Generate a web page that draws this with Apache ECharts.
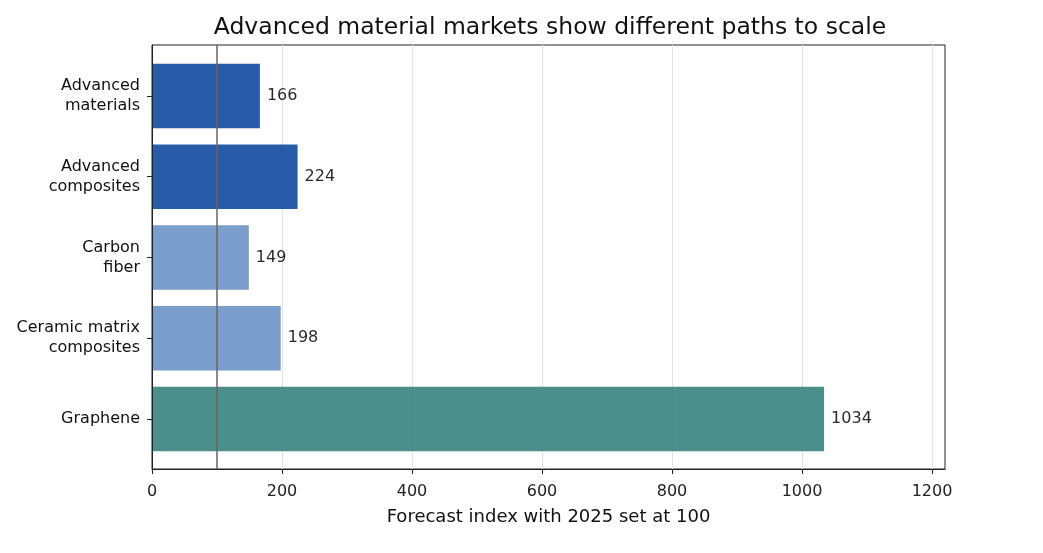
<!DOCTYPE html>
<html>
<head>
<meta charset="utf-8">
<script src="https://cdn.jsdelivr.net/npm/echarts@6/dist/echarts.min.js"></script>
<style>html,body{margin:0;padding:0;background:#fff;}#c{width:1043px;height:553px;}</style>
</head>
<body>
<div id="c"></div>
<script>
const categories = ["Advanced\nmaterials", "Advanced\ncomposites", "Carbon\nfiber", "Ceramic matrix\ncomposites", "Graphene"];
const values = [166, 224, 149, 198, 1034];
const barColors = ["#124a9f", "#6c92c5", "#37827d"];
const colorIndex = [0, 0, 1, 1, 2];
const xTicks = [0, 200, 400, 600, 800, 1000, 1200];
const baseline = 100;
const xMax = 1220;

const font = "DejaVu Sans";
const chart = echarts.init(document.getElementById('c'), null, {renderer: 'canvas'});
chart.setOption({
  animation: false,
  backgroundColor: '#fff',
  title: {
    text: 'Advanced material markets show different paths to scale',
    left: 545, top: 11, textAlign: 'center',
    textStyle: {fontFamily: font, fontSize: 23.5, fontWeight: 'normal', color: '#111'}
  },
  grid: [
    {left: 152, right: 98, top: 45, bottom: 84, show: true, borderColor: '#222', borderWidth: 1, backgroundColor: 'transparent'},
    {left: 152, right: 98, top: 55.6, bottom: 93.6}
  ],
  xAxis: [
    {
      type: 'value', gridIndex: 0, min: 0, max: xMax,
      axisLine: {show: true, lineStyle: {color: '#222', width: 1}},
      axisTick: {show: true, length: 5, lineStyle: {color: '#222'}, customValues: xTicks},
      axisLabel: {fontFamily: font, fontSize: 16, color: '#222', margin: 15, customValues: xTicks,
                  formatter: v => String(v)},
      splitLine: {show: true, lineStyle: {color: '#e3e3e3', width: 1}},
      name: 'Forecast index with 2025 set at 100',
      nameLocation: 'middle', nameGap: 39,
      nameTextStyle: {fontFamily: font, fontSize: 18, color: '#111'}
    },
    {
      type: 'value', gridIndex: 1, min: 0, max: xMax, show: false, splitLine: {show: false}
    }
  ],
  yAxis: [
    {
      type: 'value', gridIndex: 0, min: 0, max: 1, z: 10,
      axisLine: {show: true, lineStyle: {color: '#222', width: 1}},
      axisTick: {show: false}, axisLabel: {show: false}, splitLine: {show: false}
    },
    {
      type: 'category', gridIndex: 1, data: categories, inverse: true,
      axisLine: {show: false},
      axisTick: {show: true, alignWithLabel: true, length: 5, lineStyle: {color: '#222'}},
      axisLabel: {fontFamily: font, fontSize: 16, color: '#111', margin: 12, lineHeight: 20, align: 'right',
                  padding: [5, 0, 0, 0]},
      splitLine: {show: false}
    }
  ],
  series: [
    {
      type: 'bar', xAxisIndex: 1, yAxisIndex: 1,
      barCategoryGap: '20%',
      data: values.map((v, i) => ({value: v, itemStyle: {color: barColors[colorIndex[i]], opacity: 0.9}})),
      label: {show: true, position: 'right', distance: 7, fontFamily: font, fontSize: 16, color: '#111'},
      z: 2
    },
    {
      type: 'scatter', xAxisIndex: 0, yAxisIndex: 0, symbolSize: 0, z: 5,
      data: [[baseline, 0.5]], silent: true,
      markLine: {
        silent: true, symbol: 'none', label: {show: false},
        lineStyle: {color: '#666', width: 1.5, type: 'solid'},
        data: [{xAxis: baseline}]
      }
    }
  ]
});
</script>
</body>
</html>
